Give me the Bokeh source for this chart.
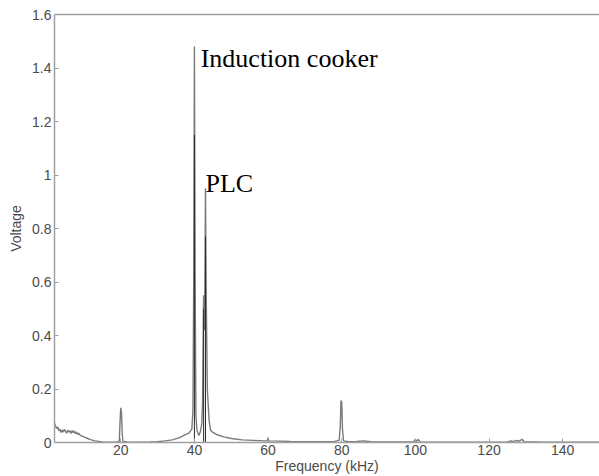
from bokeh.plotting import figure
from bokeh.models import LinearAxis, FixedTicker, Range1d
from bokeh.core.properties import value
from bokeh.embed import file_html
from bokeh.resources import INLINE

# Spectrum (frequency in kHz, voltage)
freq = [2.0, 2.3, 2.6, 2.9, 3.2, 3.5, 3.8, 4.1, 4.4, 4.7, 5.0, 5.3, 5.6, 5.9, 6.2, 6.5, 6.8,
        7.1, 7.4, 7.7, 8.0, 8.3, 8.6, 9.0, 9.5, 10.0, 11.0, 12.0, 13.0, 14.0, 15.0, 17.0,
        19.0, 19.6, 19.8, 20.0, 20.2, 20.4, 20.6, 22.0, 25.0, 28.0, 30.0, 32.0, 34.0, 36.0,
        37.0, 38.5, 39.3, 39.6, 39.8, 40.0, 40.2, 40.4, 40.7, 41.2, 41.6, 42.0, 42.2, 42.4,
        42.5, 42.7, 42.85, 43.0, 43.2, 43.5, 44.0, 44.4, 45.0, 46.0, 48.0, 50.0, 53.0, 56.0,
        59.0, 59.8, 60.0, 60.2, 63.0, 66.0, 70.0, 75.0, 78.0, 79.3, 79.6, 79.8, 80.0, 80.2,
        80.5, 82.0, 84.0, 86.0, 88.0, 92.0, 99.5, 100.0, 100.4, 100.8, 101.3, 110.0, 120.0,
        125.0, 126.0, 126.5, 127.5, 128.0, 129.0, 129.5, 135.0, 150.0]
voltage = [0.072, 0.062, 0.052, 0.058, 0.044, 0.05, 0.037, 0.047, 0.039, 0.049, 0.041, 0.035,
           0.046, 0.039, 0.044, 0.034, 0.045, 0.037, 0.043, 0.033, 0.039, 0.03, 0.035, 0.027,
           0.024, 0.021, 0.015, 0.01, 0.006, 0.004, 0.002, 0.001, 0.001, 0.005, 0.08, 0.13,
           0.11, 0.03, 0.004, 0.001, 0.001, 0.002, 0.003, 0.006, 0.01, 0.018, 0.026, 0.035,
           0.05, 0.12, 0.6, 1.48, 0.6, 0.1, 0.045, 0.026, 0.04, 0.07, 0.15, 0.45, 0.55, 0.42,
           0.6, 0.95, 0.55, 0.2, 0.08, 0.045, 0.038, 0.03, 0.021, 0.015, 0.01, 0.008, 0.006,
           0.006, 0.018, 0.006, 0.005, 0.004, 0.003, 0.003, 0.004, 0.008, 0.06, 0.157, 0.15,
           0.05, 0.006, 0.003, 0.004, 0.006, 0.003, 0.002, 0.002, 0.012, 0.004, 0.012, 0.002,
           0.001, 0.001, 0.002, 0.006, 0.003, 0.008, 0.004, 0.012, 0.003, 0.001, 0.001]

# Darker core of the main peaks
core_freq = [40.0, 42.5, 43.0]
core_volt = [1.15, 0.5, 0.77]

# Annotations
note_text = ["Induction cooker", "PLC"]
note_freq = [41.7, 43.0]
note_volt = [1.435, 0.968]

x_ticks = [20, 40, 60, 80, 100, 120, 140]
y_ticks = [0, 0.2, 0.4, 0.6, 0.8, 1.0, 1.2, 1.4, 1.6]
y_tick_labels = {0: "0", 0.2: "0.2", 0.4: "0.4", 0.6: "0.6", 0.8: "0.8", 1.0: "1",
                 1.2: "1.2", 1.4: "1.4", 1.6: "1.6"}

AX = "#a0a0a0"
TXT = "#4a4a4a"
FONT = "Liberation Sans"

p = figure(width=599, height=476, output_backend="svg", toolbar_location=None,
           x_range=Range1d(2, 150), y_range=Range1d(0, 1.6),
           min_border_left=54, min_border_right=0, min_border_top=14, min_border_bottom=34,
           x_axis_label="Frequency (kHz)", y_axis_label="Voltage")
p.background_fill_color = "white"
p.border_fill_color = "white"
p.outline_line_color = None
p.grid.visible = False

p.line(freq, voltage, line_color="#7a7a7a", line_width=1.4)
p.segment(x0=core_freq, y0=[0] * len(core_freq), x1=core_freq, y1=core_volt,
          line_color="#2a2a2a", line_width=1)

p.text(x=note_freq, y=note_volt, text=note_text, text_font=value("Liberation Serif"),
       text_font_size="26px", text_color="black", text_baseline="alphabetic",
       text_align="left")

for ax in (p.xaxis[0], p.yaxis[0]):
    ax.axis_line_color = AX
    ax.axis_line_width = 1.5
    ax.major_tick_line_color = AX
    ax.major_tick_in = 4
    ax.major_tick_out = 0
    ax.minor_tick_line_color = None
    ax.major_label_text_font = FONT
    ax.major_label_text_font_size = "14px"
    ax.major_label_text_color = TXT
    ax.axis_label_text_font = FONT
    ax.axis_label_text_font_size = "14px"
    ax.axis_label_text_font_style = "normal"
    ax.axis_label_text_color = TXT
    ax.major_label_standoff = 3

p.xaxis[0].ticker = FixedTicker(ticks=x_ticks)
p.yaxis[0].ticker = FixedTicker(ticks=y_ticks)
p.yaxis[0].major_label_overrides = y_tick_labels
p.xaxis[0].axis_label_standoff = 0
p.xaxis[0].major_label_standoff = 2
p.yaxis[0].axis_label_standoff = 5

top = LinearAxis(ticker=FixedTicker(ticks=[]), axis_line_color=AX, axis_line_width=1.5,
                 major_tick_line_color=None, minor_tick_line_color=None)
p.add_layout(top, "above")

open("out.html", "w").write(file_html(p, INLINE))
